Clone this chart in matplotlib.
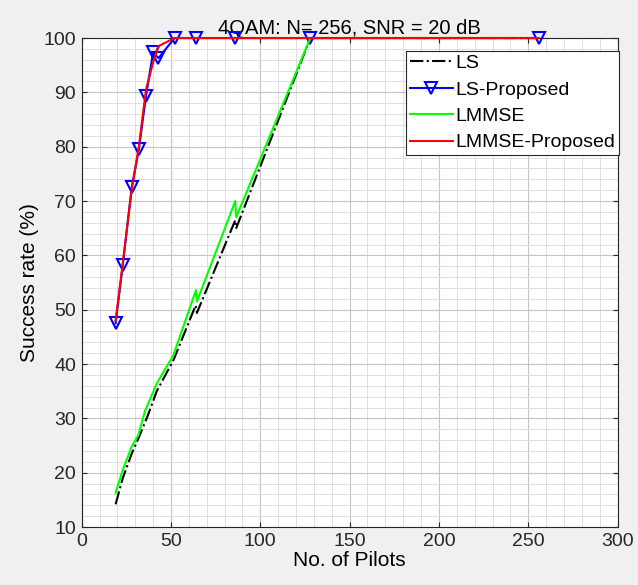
import numpy as np
import matplotlib.pyplot as plt
from matplotlib.ticker import MultipleLocator

plt.rcParams['font.family'] = ['Liberation Sans', 'DejaVu Sans']

# pilot counts and success rates (%)
pilots_prop = [19, 23, 28, 32, 36, 40, 43, 52, 64, 86, 128, 256]
ls_prop = [47.5, 58.2, 72.5, 79.5, 89.3, 97.4, 96.3, 100, 100, 100, 100, 100]
lmmse_prop = [48.0, 58.5, 72.0, 80.0, 90.5, 95.5, 98.5, 100, 100, 100, 100, 100]

pilots_ls = [19, 23, 28, 32, 37, 42, 51.5, 63.8, 64.5, 86, 86.5, 128, 256]
ls_rate = [14.2, 19.0, 23.5, 26.5, 30.5, 35.0, 40.8, 50.8, 49.4, 66.5, 65.0, 100, 100]

pilots_lmmse = [19, 23, 28, 31.7, 35.5, 42, 51.3, 64, 64.5, 86, 86.5, 128, 256]
lmmse_rate = [16.3, 20.5, 24.8, 26.9, 31.4, 36.4, 41.6, 53.6, 51.5, 70.0, 67.0, 100, 100]

fig = plt.figure(figsize=(6.38, 5.85), dpi=100, facecolor='#f0f0f0')
ax = fig.add_axes([0.128, 0.099, 0.840, 0.836])
ax.set_facecolor('white')

# curves sit on top of the box so the 100 % plateau is fully visible
ax.plot(pilots_ls, ls_rate, color='black', linestyle='-.', linewidth=1.5, label='LS',
        clip_on=False, zorder=3)
ax.plot(pilots_prop, ls_prop, color='blue', linewidth=1.5, marker='v', markersize=8.5,
        markerfacecolor='none', markeredgecolor='blue', markeredgewidth=1.5, label='LS-Proposed',
        clip_on=False, zorder=3.1)
ax.plot(pilots_lmmse, lmmse_rate, color='#00ff00', linewidth=1.5, label='LMMSE',
        clip_on=False, zorder=3.2)
ax.plot(pilots_prop, lmmse_prop, color='red', linewidth=1.5, label='LMMSE-Proposed',
        clip_on=False, zorder=3.3)

ax.set_xlim(0, 300)
ax.set_ylim(10, 100)
ax.xaxis.set_major_locator(MultipleLocator(50))
ax.xaxis.set_minor_locator(MultipleLocator(10))
ax.yaxis.set_major_locator(MultipleLocator(10))
ax.yaxis.set_minor_locator(MultipleLocator(2))
ax.grid(which='major', color='#c4c4c4', linewidth=0.8)
ax.grid(which='minor', color='#dedede', linewidth=0.7)
ax.set_axisbelow(True)
ax.tick_params(which='both', direction='in', top=True, right=True, labelsize=14, colors='#262626')
ax.tick_params(which='major', pad=4)
ax.tick_params(which='minor', length=0)
for s in ax.spines.values():
    s.set_color('#262626')
    s.set_linewidth(0.8)

ax.set_title('4QAM: N= 256, SNR = 20 dB', fontsize=14.5, pad=3, color='black')
ax.set_xlabel('No. of Pilots', fontsize=15, labelpad=1)
ax.set_ylabel('Success rate (%)', fontsize=15, labelpad=3)

leg = ax.legend(loc='upper right', bbox_to_anchor=(1.003, 0.974), fontsize=14, fancybox=False,
                framealpha=1, edgecolor='#262626', borderpad=0.2, labelspacing=0.45,
                handlelength=2.2, handletextpad=0.15, borderaxespad=0)
leg.get_frame().set_linewidth(0.8)
leg.set_zorder(5)

fig.savefig('out.png', dpi=100, facecolor=fig.get_facecolor())
